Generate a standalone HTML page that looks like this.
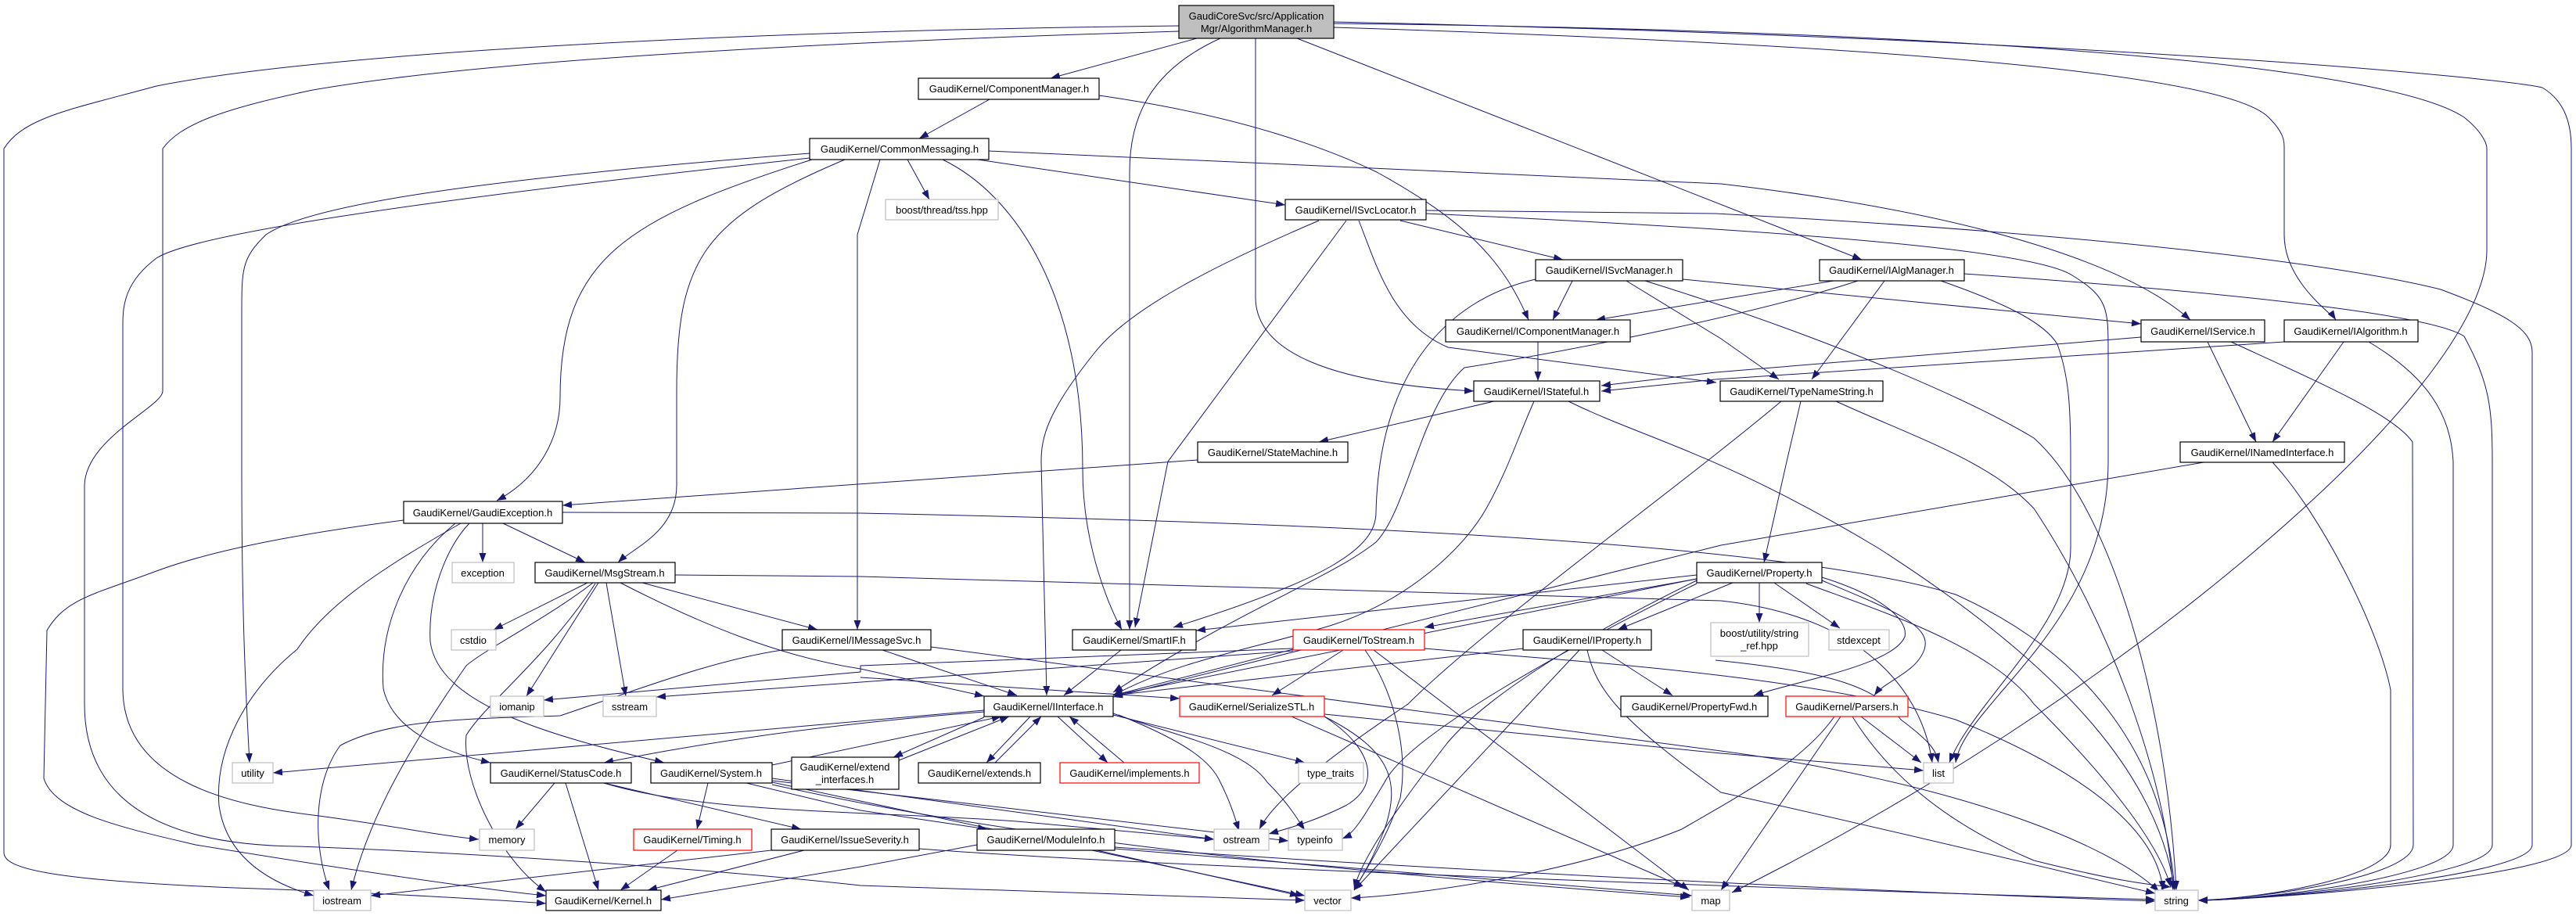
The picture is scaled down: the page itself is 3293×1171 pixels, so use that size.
<!DOCTYPE html>
<html><head><meta charset="utf-8"><style>
html,body{margin:0;padding:0;background:#fff;}
svg{display:block;}
text{font-family:"Liberation Sans",sans-serif;font-size:13px;fill:#000;}
.n{fill:#fff;stroke:#000;stroke-width:1.2;}
.g{fill:#fff;stroke:#bfbfbf;stroke-width:1.2;}
.r{fill:#fff;stroke:#ff0000;stroke-width:1.2;}
.e{fill:none;stroke:#191970;stroke-width:1;marker-end:url(#a);}
</style></head><body>
<svg width="3293" height="1171" viewBox="0 0 3293 1171" xmlns="http://www.w3.org/2000/svg">
<defs><marker id="a" markerUnits="userSpaceOnUse" markerWidth="12" markerHeight="9" refX="12" refY="4.5" orient="auto"><path d="M0,0 L12,4.5 L0,9 z" fill="#191970"/></marker></defs>
<g>
<!-- root edges -->
<path class="e" d="M1530,49 L1343,100"/>
<path class="e" d="M1560,49 C1470,90 1444,150 1444,220 L1444,805"/>
<path class="e" d="M1605,49 L1605,380 C1605,450 1700,490 1884,500"/>
<path class="e" d="M1658,49 L2380,332"/>
<path class="e" d="M1507,33 C900,40 400,70 200,110 C90,140 30,150 5,190 L5,1090 C5,1110 60,1125 300,1135 C450,1140 600,1148 698,1155"/>
<path class="e" d="M1507,40 C1000,55 600,80 400,115 C280,140 230,160 208,190 L208,500 C208,520 110,560 108,620 L108,900 C108,1020 200,1080 380,1082 C600,1090 900,1110 1100,1132 L1668,1151"/>
<path class="e" d="M1705,30 C2600,40 3060,90 3150,150 C3175,170 3179,185 3179,190 L3179,320 C3179,500 2700,900 2214,1141"/>
<path class="e" d="M1705,28 C2700,50 3200,100 3250,112 C3280,130 3287,160 3287,190 L3287,1080 C3287,1120 2900,1150 2810,1151"/>
<path class="e" d="M1705,35 C2500,60 2850,100 2900,150 C2920,170 2920,180 2920,190 L2920,300 C2920,360 2980,400 2986,409"/>
<!-- ComponentManager / CommonMessaging -->
<path class="e" d="M1265,127 L1175,177"/>
<path class="e" d="M1405,122 C1600,150 1710,196 1760,220 C1872,282 1920,330 1954,409"/>
<path class="e" d="M1160,204 L1188,255"/>
<path class="e" d="M1250,204 L1643,262"/>
<path class="e" d="M1264,193 L2200,235 C2500,270 2712,331 2800,409"/>
<path class="e" d="M1205,204 C1300,250 1384,380 1384,600 C1384,700 1420,780 1434,805"/>
<path class="e" d="M1080,204 C900,280 865,330 865,500 L865,620 C865,680 810,700 790,719"/>
<path class="e" d="M1125,204 L1096,300 L1096,805"/>
<path class="e" d="M1038,204 C800,280 716,330 716,508 C716,560 690,610 635,640"/>
<path class="e" d="M1035,196 C600,230 393,263 340,300 C309,330 309,344 309,400 L309,600 C309,800 315,900 319,975"/>
<path class="e" d="M1035,202 C500,260 245,301 200,330 C160,360 157,390 157,414 L157,880 C157,1000 300,1030 400,1042 C500,1055 560,1068 612,1073"/>
<!-- ISvcLocator -->
<path class="e" d="M1686,282 C1550,340 1444,395 1400,450 C1338,527 1331,560 1331,590 L1338,889"/>
<path class="e" d="M1721,282 L1493,590 L1451,802"/>
<path class="e" d="M1790,282 L1998,332"/>
<path class="e" d="M1737,282 C1760,340 1780,414 1851,444 L2194,489"/>
<path class="e" d="M1823,269 L2193,273 C2700,300 3000,340 3120,370 C3200,400 3237,420 3237,450 L3237,1080 C3237,1120 2900,1150 2810,1151"/>
<path class="e" d="M1823,273 C2300,295 2600,320 2649,352 C2695,380 2695,395 2695,450 L2695,590 C2695,800 2510,900 2500,975"/>
<!-- ISvcManager -->
<path class="e" d="M2010,359 L1985,409"/>
<path class="e" d="M2079,359 L2200,433 L2274,485"/>
<path class="e" d="M2151,357 L2737,414"/>
<path class="e" d="M1963,357 C1844,384 1763,482 1759,655 C1759,700 1700,740 1500,802"/>
<path class="e" d="M2103,359 C2300,420 2500,500 2600,560 C2700,650 2770,900 2782,1138"/>
<!-- IAlgManager -->
<path class="e" d="M2344,359 L2040,409"/>
<path class="e" d="M2409,359 L2316,485"/>
<path class="e" d="M2375,359 C2250,400 2012,448 1872,470 C1816,520 1800,650 1759,693 C1700,740 1591,776 1423,885"/>
<path class="e" d="M2511,350 C2800,370 3105,399 3150,430 C3182,489 3186,520 3186,590 L3186,1080 C3186,1120 2900,1150 2810,1151"/>
<path class="e" d="M2481,359 C2570,390 2614,414 2630,440 C2645,482 2647,520 2647,590 L2647,700 C2647,800 2520,900 2492,975"/>
<!-- IService / IAlgorithm -->
<path class="e" d="M2737,431 L2193,476 L2047,493"/>
<path class="e" d="M2920,437 L2193,485 L2047,500"/>
<path class="e" d="M2822,437 L2884,565"/>
<path class="e" d="M2996,437 L2905,565"/>
<path class="e" d="M2852,437 C2965,489 3060,530 3084,565 L3085,1080 C3085,1120 2900,1148 2810,1151"/>
<path class="e" d="M3028,437 C3100,480 3133,527 3136,590 L3136,1080 C3136,1120 2900,1150 2810,1151"/>
<!-- ICM / IStateful / SM -->
<path class="e" d="M1966,437 L1966,487"/>
<path class="e" d="M1910,513 L1686,565"/>
<path class="e" d="M1961,513 C1940,560 1928,600 1900,650 C1872,700 1801,768 1700,800 C1600,830 1507,844 1423,889"/>
<path class="e" d="M2005,513 C2100,560 2200,580 2400,700 C2650,860 2760,1000 2780,1138"/>
<path class="e" d="M1531,588 L719,646"/>
<!-- TNS -->
<path class="e" d="M2302,513 L2284,590 L2255,719"/>
<path class="e" d="M2277,513 C2150,620 1900,800 1800,900 C1650,1000 1620,1040 1610,1060"/>
<path class="e" d="M2347,513 C2450,560 2544,590 2600,650 C2700,800 2770,1000 2778,1138"/>
<!-- INI -->
<path class="e" d="M2817,591 L2200,697 L1423,891"/>
<path class="e" d="M2905,591 C2965,655 3040,800 3056,882 L3056,1080 C3056,1120 2900,1148 2810,1151"/>
<!-- GaudiException -->
<path class="e" d="M617,669 L617,719"/>
<path class="e" d="M643,669 L748,719"/>
<path class="e" d="M719,655 L1100,656 C1800,670 2300,700 2500,760 C2700,850 2770,1000 2780,1138"/>
<path class="e" d="M516,665 C400,680 281,700 200,730 C120,760 84,765 60,806 L56,995 C70,1040 161,1059 250,1080 C421,1108 600,1135 698,1145"/>
<path class="e" d="M589,669 C500,720 421,768 380,830 C316,882 274,957 280,1030 C290,1100 350,1130 401,1145"/>
<path class="e" d="M582,669 C520,720 484,800 490,880 C500,930 560,960 627,975"/>
<path class="e" d="M600,669 C570,700 547,761 550,820 C560,900 700,940 849,975"/>
<!-- MsgStream -->
<path class="e" d="M751,745 L631,805"/>
<path class="e" d="M765,745 L673,890"/>
<path class="e" d="M775,745 L800,890"/>
<path class="e" d="M821,745 L1045,805"/>
<path class="e" d="M793,745 C900,800 1000,840 1100,855 L1258,890"/>
<path class="e" d="M758,745 C700,790 620,830 596,851 C520,960 470,1050 449,1138"/>
<path class="e" d="M863,735 L1100,737 L2200,768 C2400,790 2460,900 2470,975"/>
<path class="e" d="M761,746 C700,840 620,900 596,940 C590,1000 640,1100 698,1140"/>
<path class="e" d="M1100,866 L1508,893"/>
<!-- IMessageSvc -->
<path class="e" d="M1128,831 L1300,889"/>
<path class="e" d="M1190,827 L2200,960 C2500,1000 2700,1080 2760,1140"/>
<path class="e" d="M1000,831 C912,844 820,880 716,915 C600,919 498,919 435,953 C400,1000 400,1080 421,1138"/>
<!-- SmartIF -->
<path class="e" d="M1433,831 L1360,889"/>
<!-- Property -->
<path class="e" d="M2169,735 L1529,806"/>
<path class="e" d="M2169,740 L1821,802"/>
<path class="e" d="M2215,745 L2068,805"/>
<path class="e" d="M2249,745 L2249,796"/>
<path class="e" d="M2268,745 L2352,803"/>
<path class="e" d="M2329,738 C2400,760 2440,790 2435,814 C2420,850 2300,870 2242,889"/>
<path class="e" d="M2329,742 C2420,780 2470,800 2460,830 C2450,860 2410,870 2396,889"/>
<path class="e" d="M2309,746 C2400,780 2544,825 2600,900 C2700,1000 2760,1080 2775,1134"/>
<path class="e" d="M2169,740 L1423,889"/>
<path class="e" d="M2169,742 C2050,800 1907,882 1850,950 C1780,1040 1740,1100 1731,1136"/>
<path class="e" d="M2169,746 C2000,830 1800,940 1770,1000 C1740,1050 1730,1066 1716,1072"/>
<path class="e" d="M2193,844 C2350,860 2400,880 2430,920 C2470,950 2475,960 2478,975"/>
<!-- ToStream -->
<path class="e" d="M1653,830 L1423,889"/>
<path class="e" d="M1717,831 L1626,889"/>
<path class="e" d="M1653,829 L1100,851 L1100,859 L695,895"/>
<path class="e" d="M1653,832 L839,891"/>
<path class="e" d="M1745,831 C1780,880 1801,957 1790,1020 C1770,1080 1740,1120 1731,1138"/>
<path class="e" d="M1756,831 L2159,1138"/>
<path class="e" d="M1821,829 C1977,843 2300,860 2500,920 C2700,1000 2760,1080 2765,1138"/>
<!-- IProperty -->
<path class="e" d="M1947,829 L1423,889"/>
<path class="e" d="M2048,831 L2138,889"/>
<path class="e" d="M2019,831 L1731,1138"/>
<path class="e" d="M2029,831 C2040,880 2068,919 2200,1013 C2500,1080 2700,1130 2755,1142"/>
<!-- SerializeSTL -->
<path class="e" d="M1693,916 C1760,960 1763,1006 1720,1030 C1680,1050 1650,1058 1622,1066"/>
<path class="e" d="M1693,916 C1780,960 1790,1000 1770,1060 C1750,1110 1735,1130 1731,1138"/>
<path class="e" d="M1651,916 L2152,1134"/>
<path class="e" d="M1693,913 L2200,963 L2459,985"/>
<!-- Interface -->
<path class="e" d="M1258,917 L1142,968"/>
<path class="e" d="M1149,972 L1290,916"/>
<path class="e" d="M1317,916 L1261,975"/>
<path class="e" d="M1272,975 L1331,916"/>
<path class="e" d="M1352,916 L1416,975"/>
<path class="e" d="M1437,975 L1367,916"/>
<path class="e" d="M1423,914 L1668,975"/>
<path class="e" d="M1430,914 C1520,950 1549,975 1560,1000 C1575,1030 1580,1050 1584,1062"/>
<path class="e" d="M1423,912 C1500,940 1591,957 1620,1000 C1650,1030 1660,1050 1668,1061"/>
<path class="e" d="M1258,910 C1000,930 850,960 772,975"/>
<path class="e" d="M987,978 L1280,916"/>
<path class="e" d="M1258,908 L349,988"/>
<!-- StatusCode / System / others -->
<path class="e" d="M709,1001 L659,1060"/>
<path class="e" d="M723,1001 L765,1138"/>
<path class="e" d="M772,1001 L1024,1060"/>
<path class="e" d="M772,1001 C900,1040 1100,1036 1300,1050 L1552,1073"/>
<path class="e" d="M905,1001 L891,1060"/>
<path class="e" d="M954,1001 L1100,1036 L1262,1060"/>
<path class="e" d="M987,995 L1552,1073"/>
<path class="e" d="M987,998 L1647,1075"/>
<path class="e" d="M987,1000 L1668,1145"/>
<path class="e" d="M987,1003 C1200,1050 1500,1100 2160,1147"/>
<path class="e" d="M866,1087 L793,1138"/>
<path class="e" d="M1028,1087 L828,1138"/>
<path class="e" d="M986,1087 L474,1145"/>
<path class="e" d="M1175,1085 C1500,1110 2400,1140 2755,1150"/>
<path class="e" d="M1249,1080 L1100,1108 L845,1150"/>
<path class="e" d="M1402,1087 L1661,1145"/>
<path class="e" d="M1425,1083 C1800,1110 2400,1140 2755,1152"/>
<path class="e" d="M1425,1085 L2163,1145"/>
<!-- Parsers -->
<path class="e" d="M2379,916 L2456,975"/>
<path class="e" d="M2368,916 C2420,1000 2502,1059 2600,1100 C2700,1125 2740,1130 2775,1134"/>
<path class="e" d="M2345,916 C2300,980 2200,1030 2150,1060 C2000,1120 1800,1145 1727,1148"/>
<path class="e" d="M2353,916 L2200,1138"/>
</g>
<!-- nodes -->
<g>
<rect x="1507" y="7" width="198" height="42" fill="#bfbfbf" stroke="#000" stroke-width="1.2"/>
<text x="1606" y="25" text-anchor="middle">GaudiCoreSvc/src/Application</text>
<text x="1606" y="41" text-anchor="middle">Mgr/AlgorithmManager.h</text>

<rect class="n" x="1174" y="100" width="231" height="27"/><text x="1290" y="118" text-anchor="middle">GaudiKernel/ComponentManager.h</text>
<rect class="n" x="1035" y="177" width="229" height="27"/><text x="1150" y="195" text-anchor="middle">GaudiKernel/CommonMessaging.h</text>
<rect class="g" x="1132" y="255" width="144" height="26"/><text x="1204" y="273" text-anchor="middle">boost/thread/tss.hpp</text>
<rect class="n" x="1643" y="255" width="180" height="26"/><text x="1733" y="273" text-anchor="middle">GaudiKernel/ISvcLocator.h</text>
<rect class="n" x="1963" y="332" width="188" height="27"/><text x="2057" y="350" text-anchor="middle">GaudiKernel/ISvcManager.h</text>
<rect class="n" x="2326" y="332" width="185" height="27"/><text x="2418" y="350" text-anchor="middle">GaudiKernel/IAlgManager.h</text>
<rect class="n" x="1848" y="409" width="236" height="28"/><text x="1966" y="428" text-anchor="middle">GaudiKernel/IComponentManager.h</text>
<rect class="n" x="2737" y="409" width="158" height="28"/><text x="2816" y="428" text-anchor="middle">GaudiKernel/IService.h</text>
<rect class="n" x="2920" y="409" width="171" height="28"/><text x="3005" y="428" text-anchor="middle">GaudiKernel/IAlgorithm.h</text>
<rect class="n" x="1884" y="487" width="161" height="26"/><text x="1964" y="505" text-anchor="middle">GaudiKernel/IStateful.h</text>
<rect class="n" x="2199" y="487" width="208" height="26"/><text x="2303" y="505" text-anchor="middle">GaudiKernel/TypeNameString.h</text>
<rect class="n" x="1531" y="565" width="192" height="26"/><text x="1627" y="583" text-anchor="middle">GaudiKernel/StateMachine.h</text>
<rect class="n" x="2787" y="565" width="210" height="26"/><text x="2892" y="583" text-anchor="middle">GaudiKernel/INamedInterface.h</text>
<rect class="n" x="516" y="641" width="203" height="28"/><text x="617" y="660" text-anchor="middle">GaudiKernel/GaudiException.h</text>
<rect class="g" x="578" y="719" width="79" height="26"/><text x="617" y="737" text-anchor="middle">exception</text>
<rect class="n" x="684" y="719" width="179" height="26"/><text x="773" y="737" text-anchor="middle">GaudiKernel/MsgStream.h</text>
<rect class="n" x="2169" y="719" width="160" height="26"/><text x="2249" y="737" text-anchor="middle">GaudiKernel/Property.h</text>
<rect class="g" x="577" y="805" width="57" height="26"/><text x="605" y="823" text-anchor="middle">cstdio</text>
<rect class="n" x="1000" y="805" width="190" height="26"/><text x="1095" y="823" text-anchor="middle">GaudiKernel/IMessageSvc.h</text>
<rect class="n" x="1371" y="805" width="158" height="26"/><text x="1450" y="823" text-anchor="middle">GaudiKernel/SmartIF.h</text>
<rect class="r" x="1653" y="805" width="168" height="26"/><text x="1737" y="823" text-anchor="middle">GaudiKernel/ToStream.h</text>
<rect class="n" x="1947" y="805" width="164" height="26"/><text x="2029" y="823" text-anchor="middle">GaudiKernel/IProperty.h</text>
<rect class="g" x="2187" y="796" width="125" height="43"/><text x="2249" y="814" text-anchor="middle">boost/utility/string</text><text x="2249" y="830" text-anchor="middle">_ref.hpp</text>
<rect class="g" x="2338" y="805" width="77" height="26"/><text x="2376" y="823" text-anchor="middle">stdexcept</text>
<rect class="g" x="627" y="890" width="68" height="26"/><text x="661" y="908" text-anchor="middle">iomanip</text>
<rect class="g" x="771" y="890" width="68" height="26"/><text x="805" y="908" text-anchor="middle">sstream</text>
<rect class="n" x="1258" y="890" width="165" height="26"/><text x="1340" y="908" text-anchor="middle">GaudiKernel/IInterface.h</text>
<rect class="r" x="1508" y="890" width="185" height="26"/><text x="1600" y="908" text-anchor="middle">GaudiKernel/SerializeSTL.h</text>
<rect class="n" x="2072" y="890" width="188" height="26"/><text x="2166" y="908" text-anchor="middle">GaudiKernel/PropertyFwd.h</text>
<rect class="r" x="2283" y="890" width="156" height="26"/><text x="2361" y="908" text-anchor="middle">GaudiKernel/Parsers.h</text>
<rect class="g" x="297" y="975" width="52" height="26"/><text x="323" y="993" text-anchor="middle">utility</text>
<rect class="n" x="627" y="975" width="180" height="26"/><text x="717" y="993" text-anchor="middle">GaudiKernel/StatusCode.h</text>
<rect class="n" x="832" y="975" width="155" height="26"/><text x="909" y="993" text-anchor="middle">GaudiKernel/System.h</text>
<rect class="n" x="1012" y="968" width="137" height="41"/><text x="1080" y="985" text-anchor="middle">GaudiKernel/extend</text><text x="1080" y="1001" text-anchor="middle">_interfaces.h</text>
<rect class="n" x="1174" y="975" width="156" height="26"/><text x="1252" y="993" text-anchor="middle">GaudiKernel/extends.h</text>
<rect class="r" x="1355" y="975" width="178" height="26"/><text x="1444" y="993" text-anchor="middle">GaudiKernel/implements.h</text>
<rect class="g" x="1660" y="975" width="83" height="26"/><text x="1701" y="993" text-anchor="middle">type_traits</text>
<rect class="g" x="2459" y="975" width="38" height="26"/><text x="2478" y="993" text-anchor="middle">list</text>
<rect class="g" x="613" y="1060" width="70" height="27"/><text x="648" y="1078" text-anchor="middle">memory</text>
<rect class="r" x="810" y="1060" width="151" height="27"/><text x="885" y="1078" text-anchor="middle">GaudiKernel/Timing.h</text>
<rect class="n" x="986" y="1060" width="189" height="27"/><text x="1080" y="1078" text-anchor="middle">GaudiKernel/IssueSeverity.h</text>
<rect class="n" x="1249" y="1060" width="176" height="27"/><text x="1337" y="1078" text-anchor="middle">GaudiKernel/ModuleInfo.h</text>
<rect class="g" x="1552" y="1060" width="70" height="27"/><text x="1587" y="1078" text-anchor="middle">ostream</text>
<rect class="g" x="1647" y="1060" width="69" height="27"/><text x="1681" y="1078" text-anchor="middle">typeinfo</text>
<rect class="g" x="401" y="1138" width="73" height="26"/><text x="437" y="1156" text-anchor="middle">iostream</text>
<rect class="n" x="698" y="1138" width="147" height="26"/><text x="771" y="1156" text-anchor="middle">GaudiKernel/Kernel.h</text>
<rect class="g" x="1668" y="1138" width="59" height="26"/><text x="1697" y="1156" text-anchor="middle">vector</text>
<rect class="g" x="2163" y="1138" width="48" height="26"/><text x="2187" y="1156" text-anchor="middle">map</text>
<rect class="g" x="2755" y="1138" width="55" height="26"/><text x="2782" y="1156" text-anchor="middle">string</text>
</g>
</svg>
</body></html>
